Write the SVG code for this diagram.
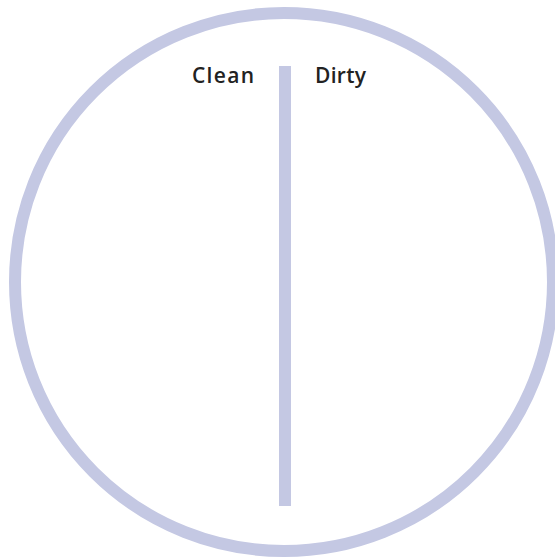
<svg xmlns="http://www.w3.org/2000/svg" width="555" height="558" viewBox="0 0 555 558">
<style>
.lbl{font-family:"Open Sans","Liberation Sans",sans-serif;font-weight:600;font-size:21px;fill:#222222}
.ln{fill:none;stroke:#c4c8e3;stroke-width:12}
</style>
<rect width="555" height="558" fill="#ffffff"/>
<g id="ring"><circle class="ln" cx="284" cy="282" r="269"/></g>
<g id="connectors"><rect x="279" y="66" width="12" height="440" fill="#c4c8e3"/></g>
<g id="clean"><text class="lbl" x="192" y="83" textLength="62" lengthAdjust="spacing">Clean</text></g>
<g id="dirty"><text class="lbl" x="315" y="83" textLength="51" lengthAdjust="spacing">Dirty</text></g>
</svg>
